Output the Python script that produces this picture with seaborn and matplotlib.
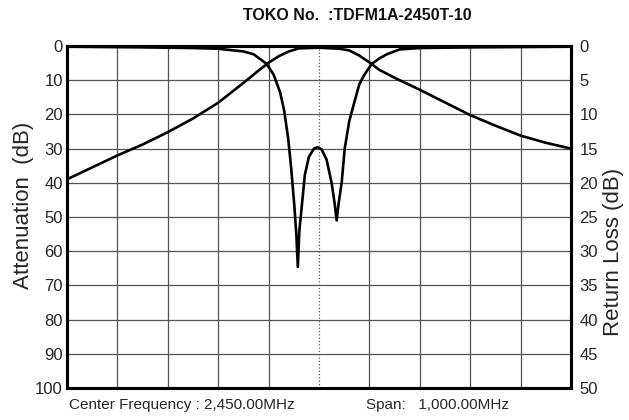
import numpy as np
import pandas as pd
import seaborn as sns
import matplotlib.pyplot as plt

# ---------------------------------------------------------------------------
# DATA
# ---------------------------------------------------------------------------
# attenuation curve, left axis (dB)
freq_att = [1950, 2000, 2050, 2100, 2150, 2200, 2250, 2300, 2330, 2350, 2370,
            2390, 2410, 2450, 2490, 2510, 2530, 2550, 2570, 2600, 2650, 2700,
            2750, 2800, 2850, 2900, 2950]
att_db = [39.0, 35.5, 32.0, 28.8, 25.2, 21.2, 16.6, 10.8, 7.2, 4.9, 3.0,
          1.6, 0.7, 0.5, 0.8, 1.3, 2.8, 4.8, 7.0, 9.3, 12.8, 16.5,
          20.2, 23.3, 26.2, 28.3, 30.0]

# return loss curve, right axis (dB)
freq_rl = [1950, 2100, 2200, 2250, 2300, 2320, 2346, 2360, 2373, 2381, 2389,
           2395, 2401, 2405, 2408, 2411, 2416, 2422, 2430, 2440, 2447, 2455,
           2465, 2475, 2481, 2485, 2489, 2495, 2501, 2510, 2518, 2530, 2540,
           2555, 2570, 2585, 2610, 2650, 2750, 2950]
rl_db = [0.1, 0.2, 0.3, 0.4, 0.8, 1.2, 2.6, 4.2, 6.8, 9.5, 13.6,
         18.0, 23.3, 27.5, 32.3, 27.0, 23.3, 18.8, 16.2, 15.0, 14.8, 15.1,
         16.6, 20.0, 23.0, 25.5, 23.0, 20.0, 15.0, 11.0, 8.8, 5.6, 4.2,
         2.6, 1.8, 1.2, 0.5, 0.3, 0.2, 0.1]

freq_grid = list(range(1950, 2951, 100))
left_ticks = list(range(0, 101, 10))
right_ticks = list(range(0, 51, 5))

att_df = pd.DataFrame({'freq': freq_att, 'att': att_db})
rl_df = pd.DataFrame({'freq': freq_rl, 'rl': rl_db})

# ---------------------------------------------------------------------------
# PLOT
# ---------------------------------------------------------------------------
sns.set_style("white")
plt.rcParams['font.family'] = ['Liberation Sans', 'DejaVu Sans']

fig = plt.figure(figsize=(6.29, 4.2), dpi=100)
ax = fig.add_axes([0.1065, 0.0762, 0.8013, 0.8143])

sns.lineplot(data=att_df, x='freq', y='att', color='black', lw=1.9,
             sort=False, ax=ax)
ax.set_xlim(1950, 2950)
ax.set_ylim(100, 0)
ax.set_xticks(freq_grid)
ax.set_xticklabels([])
ax.set_yticks(left_ticks)
ax.tick_params(axis='x', length=0)
ax.tick_params(axis='y', length=0, labelsize=12, pad=3)
ax.grid(True, color='#555555', lw=0.9)
ax.set_axisbelow(True)
ax.set_xlabel('')
ax.set_ylabel('')

# center gridline is dotted in the original
ax.get_xgridlines()[5].set_linestyle(':')

ax2 = ax.twinx()
sns.lineplot(data=rl_df, x='freq', y='rl', color='black', lw=1.9,
             sort=False, ax=ax2)
ax2.set_ylim(50, 0)
ax2.set_yticks(right_ticks)
ax2.tick_params(axis='y', length=0, labelsize=12, pad=6)
ax2.grid(False)
ax2.set_ylabel('')

for a in (ax, ax2):
    for sp in a.spines.values():
        sp.set_linewidth(2.2)
        sp.set_color('black')

fig.text(0.037, 0.51, 'Attenuation  (dB)', rotation=90, ha='center',
         va='center', fontsize=16)
fig.text(0.975, 0.40, 'Return Loss (dB)', rotation=90, ha='center',
         va='center', fontsize=16)
fig.text(243 / 629, 0.964, 'TOKO No.  :TDFM1A-2450T-10', ha='left',
         va='center', fontsize=11.5, fontweight='bold', color='#111111')
fig.text(69 / 629, 0.036, 'Center Frequency : 2,450.00MHz', ha='left',
         va='center', fontsize=11)
fig.text(366 / 629, 0.036, 'Span:   1,000.00MHz', ha='left',
         va='center', fontsize=11)

fig.savefig('out.png', dpi=100)
